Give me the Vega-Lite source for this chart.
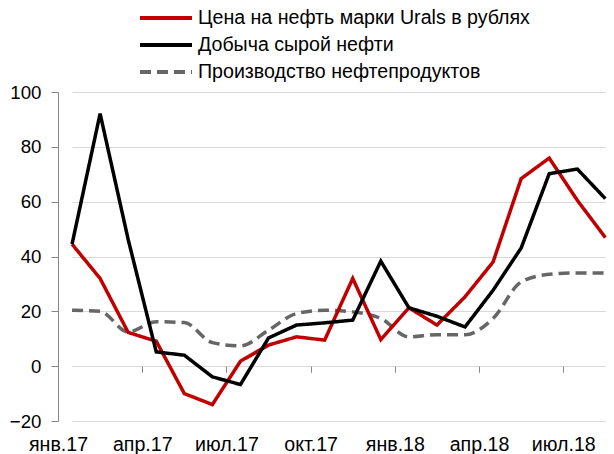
{
  "$schema": "https://vega.github.io/schema/vega-lite/v6.json",
  "autosize": "none",
  "padding": {"left": 58, "top": 92, "right": 0, "bottom": 33},
  "width": 556,
  "height": 329,
  "background": "white",
  "config": {
    "font": "Liberation Sans",
    "view": {"stroke": null},
    "axis": {"labelFont": "Liberation Sans", "labelFontSize": 18.7, "labelColor": "#000000"}
  },
  "datasets": {
    "main": [
      {"m": "янв.17", "s": "Цена на нефть марки Urals в рублях", "v": 44.5},
      {"m": "фев.17", "s": "Цена на нефть марки Urals в рублях", "v": 32.0},
      {"m": "мар.17", "s": "Цена на нефть марки Urals в рублях", "v": 12.3},
      {"m": "апр.17", "s": "Цена на нефть марки Urals в рублях", "v": 9.1},
      {"m": "май.17", "s": "Цена на нефть марки Urals в рублях", "v": -10.0},
      {"m": "июн.17", "s": "Цена на нефть марки Urals в рублях", "v": -14.0},
      {"m": "июл.17", "s": "Цена на нефть марки Urals в рублях", "v": 1.8},
      {"m": "авг.17", "s": "Цена на нефть марки Urals в рублях", "v": 7.7},
      {"m": "сен.17", "s": "Цена на нефть марки Urals в рублях", "v": 10.7},
      {"m": "окт.17", "s": "Цена на нефть марки Urals в рублях", "v": 9.5},
      {"m": "ноя.17", "s": "Цена на нефть марки Urals в рублях", "v": 32.0},
      {"m": "дек.17", "s": "Цена на нефть марки Urals в рублях", "v": 9.7},
      {"m": "янв.18", "s": "Цена на нефть марки Urals в рублях", "v": 21.3},
      {"m": "фев.18", "s": "Цена на нефть марки Urals в рублях", "v": 15.0},
      {"m": "мар.18", "s": "Цена на нефть марки Urals в рублях", "v": 25.3},
      {"m": "апр.18", "s": "Цена на нефть марки Urals в рублях", "v": 38.0},
      {"m": "май.18", "s": "Цена на нефть марки Urals в рублях", "v": 68.4},
      {"m": "июн.18", "s": "Цена на нефть марки Urals в рублях", "v": 75.9},
      {"m": "июл.18", "s": "Цена на нефть марки Urals в рублях", "v": 60.5},
      {"m": "авг.18", "s": "Цена на нефть марки Urals в рублях", "v": 46.9},
      {"m": "янв.17", "s": "Добыча сырой нефти", "v": 44.5},
      {"m": "фев.17", "s": "Добыча сырой нефти", "v": 92.1},
      {"m": "мар.17", "s": "Добыча сырой нефти", "v": 46.2},
      {"m": "апр.17", "s": "Добыча сырой нефти", "v": 5.2},
      {"m": "май.17", "s": "Добыча сырой нефти", "v": 4.0},
      {"m": "июн.17", "s": "Добыча сырой нефти", "v": -3.9},
      {"m": "июл.17", "s": "Добыча сырой нефти", "v": -6.7},
      {"m": "авг.17", "s": "Добыча сырой нефти", "v": 10.3},
      {"m": "сен.17", "s": "Добыча сырой нефти", "v": 15.0},
      {"m": "окт.17", "s": "Добыча сырой нефти", "v": 15.8},
      {"m": "ноя.17", "s": "Добыча сырой нефти", "v": 16.8},
      {"m": "дек.17", "s": "Добыча сырой нефти", "v": 38.3},
      {"m": "янв.18", "s": "Добыча сырой нефти", "v": 21.3},
      {"m": "фев.18", "s": "Добыча сырой нефти", "v": 18.2},
      {"m": "мар.18", "s": "Добыча сырой нефти", "v": 14.3},
      {"m": "апр.18", "s": "Добыча сырой нефти", "v": 27.7},
      {"m": "май.18", "s": "Добыча сырой нефти", "v": 43.1},
      {"m": "июн.18", "s": "Добыча сырой нефти", "v": 70.2},
      {"m": "июл.18", "s": "Добыча сырой нефти", "v": 71.9},
      {"m": "авг.18", "s": "Добыча сырой нефти", "v": 61.1}
    ],
    "prod": [
      {"m": "янв.17", "s": "Производство нефтепродуктов", "v": 20.4},
      {"m": "фев.17", "s": "Производство нефтепродуктов", "v": 20.0},
      {"m": "мар.17", "s": "Производство нефтепродуктов", "v": 12.5},
      {"m": "апр.17", "s": "Производство нефтепродуктов", "v": 16.2},
      {"m": "май.17", "s": "Производство нефтепродуктов", "v": 15.9},
      {"m": "июн.17", "s": "Производство нефтепродуктов", "v": 8.6},
      {"m": "июл.17", "s": "Производство нефтепродуктов", "v": 7.4},
      {"m": "авг.17", "s": "Производство нефтепродуктов", "v": 13.1},
      {"m": "сен.17", "s": "Производство нефтепродуктов", "v": 19.2},
      {"m": "окт.17", "s": "Производство нефтепродуктов", "v": 20.4},
      {"m": "ноя.17", "s": "Производство нефтепродуктов", "v": 19.8},
      {"m": "дек.17", "s": "Производство нефтепродуктов", "v": 17.4},
      {"m": "янв.18", "s": "Производство нефтепродуктов", "v": 10.7},
      {"m": "фев.18", "s": "Производство нефтепродуктов", "v": 11.5},
      {"m": "мар.18", "s": "Производство нефтепродуктов", "v": 11.5},
      {"m": "апр.18", "s": "Производство нефтепродуктов", "v": 17.4},
      {"m": "май.18", "s": "Производство нефтепродуктов", "v": 30.7},
      {"m": "июн.18", "s": "Производство нефтепродуктов", "v": 33.5},
      {"m": "июл.18", "s": "Производство нефтепродуктов", "v": 34.0},
      {"m": "авг.18", "s": "Производство нефтепродуктов", "v": 34.0}
    ]
  },
  "encoding": {
    "x": {
      "field": "m", "type": "ordinal", "sort": null,
      "scale": {"type": "point", "padding": 0, "range": [14.04, 547.37],
        "domain": ["янв.17","фев.17","мар.17","апр.17","май.17","июн.17","июл.17","авг.17","сен.17","окт.17","ноя.17","дек.17","янв.18","фев.18","мар.18","апр.18","май.18","июн.18","июл.18","авг.18"]},
      "axis": {
        "title": null, "values": ["янв.17","апр.17","июл.17","окт.17","янв.18","апр.18","июл.18"],
        "labelAngle": 0, "domain": false, "grid": false, "labelFontSize": 19.6,
        "offset": -54.8, "ticks": true, "tickSize": 6, "tickColor": "#868686", "tickOffset": -14.04,
        "labelPadding": 63, "labelBaseline": "top"
      }
    },
    "y": {
      "field": "v", "type": "quantitative",
      "scale": {"domain": [-20, 100], "nice": false, "zero": false},
      "axis": {
        "title": null, "values": [-20, 0, 20, 40, 60, 80, 100],
        "domainColor": "#868686", "tickColor": "#868686", "tickSize": 7,
        "gridColor": "#d9d9d9", "labelPadding": 10
      }
    },
    "color": {
      "field": "s", "type": "nominal",
      "scale": {"domain": ["Цена на нефть марки Urals в рублях", "Добыча сырой нефти", "Производство нефтепродуктов"], "range": ["#c00000", "#000000", "#666666"]},
      "legend": {
        "title": null, "orient": "none", "legendX": 80, "legendY": -86.5, "padding": 0,
        "symbolType": "stroke", "symbolSize": 2704, "symbolStrokeWidth": 4, "clipHeight": 25,
        "labelFont": "Liberation Sans", "labelFontSize": 19.6, "labelColor": "#000000", "labelLimit": 0,
        "labelOffset": 4, "rowPadding": 2
      }
    },
    "strokeDash": {
      "field": "s", "type": "nominal",
      "scale": {"domain": ["Цена на нефть марки Urals в рублях", "Добыча сырой нефти", "Производство нефтепродуктов"], "range": [[1, 0], [1, 0], [11, 6]]},
      "legend": {
        "title": null, "orient": "none", "legendX": 80, "legendY": -86.5, "padding": 0,
        "symbolType": "stroke", "symbolSize": 2704, "symbolStrokeWidth": 4, "clipHeight": 25,
        "labelFont": "Liberation Sans", "labelFontSize": 19.6, "labelColor": "#000000", "labelLimit": 0,
        "labelOffset": 4, "rowPadding": 2
      }
    }
  },
  "layer": [
    {
      "mark": {"type": "rule", "color": "#868686", "strokeWidth": 1},
      "encoding": {"y": {"datum": 0}, "x": null, "color": null, "strokeDash": null}
    },
    {
      "data": {"name": "prod"},
      "mark": {"type": "line", "strokeWidth": 3.5, "interpolate": "monotone"}
    },
    {
      "data": {"name": "main"},
      "mark": {"type": "line", "strokeWidth": 3.5}
    }
  ]
}
